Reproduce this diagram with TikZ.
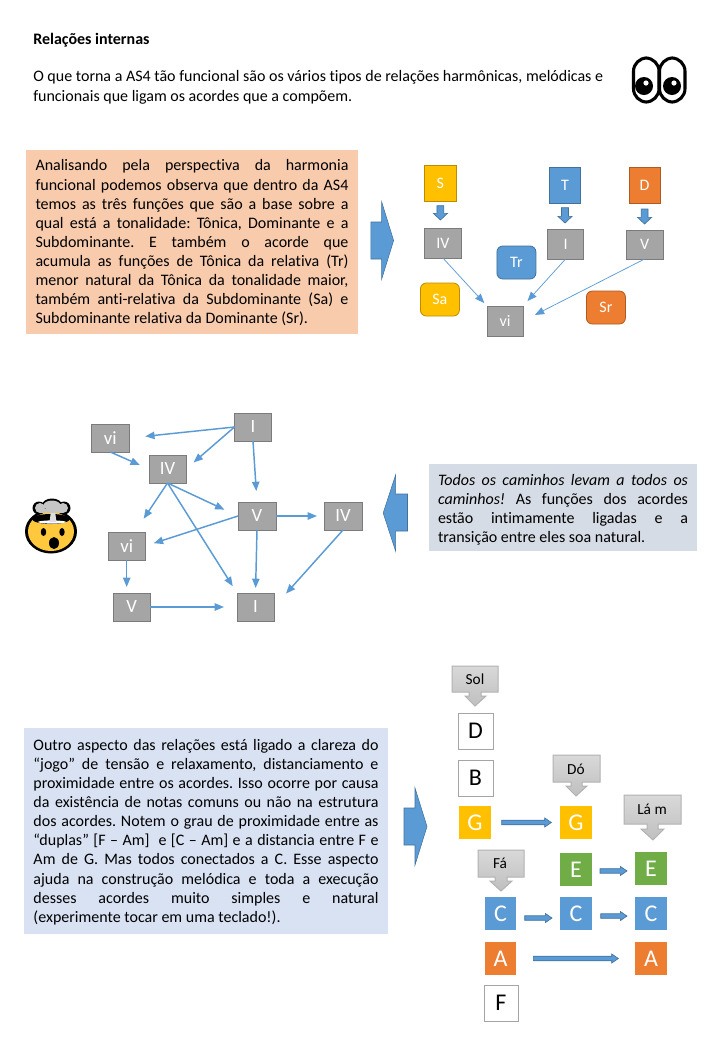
\documentclass[tikz,border=0pt]{standalone}
\usepackage{fontspec}
\setmainfont{Carlito}[Ligatures=NoCommon]
\usetikzlibrary{arrows.meta,calc}
\definecolor{cblue}{HTML}{5B9BD5}
\definecolor{cbluedk}{HTML}{41719C}
\definecolor{cgold}{HTML}{FFC000}
\definecolor{cgolddk}{HTML}{BC8C00}
\definecolor{corange}{HTML}{ED7D31}
\definecolor{corangedk}{HTML}{AE5A21}
\definecolor{cgray}{HTML}{A5A5A5}
\definecolor{cgraydk}{HTML}{7B7B7B}
\definecolor{cgreen}{HTML}{70AD47}
\definecolor{boxpeach}{HTML}{F8CBAD}
\definecolor{boxslate}{HTML}{D6DCE5}
\definecolor{boxblue}{HTML}{D9E2F3}
\definecolor{cface}{HTML}{FFC83D}
\tolerance=10000 \hbadness=10000 \hfuzz=20pt
\frenchspacing
\tikzset{
  x=0.75pt,y=-0.75pt,
  sz/.style 2 args={minimum width=#1*0.75pt,minimum height=#2*0.75pt,inner sep=0pt,outer sep=0pt},
  chord/.style={draw=cgraydk,fill=cgray,text=white,line width=0.6pt},
  chordA/.style={chord,font=\fontsize{12}{14}\selectfont},
  chordB/.style={chord,font=\fontsize{14}{16}\selectfont},
  func/.style={draw=#1dk,fill=#1,text=white,line width=0.6pt,font=\fontsize{12}{14}\selectfont},
  funcr/.style={func=#1,rounded corners=4.5pt},
  para/.style={inner sep=0pt,outer sep=0pt,align=justify},
  body/.style={font=\fontsize{12}{14.35}\selectfont,text=black},
  letter/.style={font=\fontsize{18}{20}\selectfont},
  solid box/.style={fill=#1,text=white,letter},
  open box/.style={draw=cgray,fill=white,text=black,letter,line width=0.75pt},
  thinarr/.style={draw=cblue,line width=0.55pt,-{Triangle[length=7pt,width=5.5pt]}},
  medarr/.style={draw=cblue,line width=1.1pt,-{Triangle[length=7pt,width=5.5pt]}},
  blockstyle/.style={fill=cblue,draw=cbluedk,line width=0.5pt},
  % horizontal block arrow between two nodes: start gap, end gap, downward offset (pt)
  hblock/.style n args={3}{blockstyle,to path={
    let \p1=(\tikztostart),\p2=(\tikztotarget),\n1={\x1+#1},\n2={\x2-#2},\n3={\y1-#3} in
    (\n1,\n3+1.7pt) -- (\n2-5pt,\n3+1.7pt) -- (\n2-5pt,\n3+3.4pt) -- (\n2,\n3)
    -- (\n2-5pt,\n3-3.4pt) -- (\n2-5pt,\n3-1.7pt) -- (\n1,\n3-1.7pt) -- cycle}},
  % vertical block arrow between two nodes: start gap, end gap
  vblock/.style 2 args={blockstyle,to path={
    let \p1=(\tikztostart),\p2=(\tikztotarget),\n1={\y1-#1},\n2={\y2+#2} in
    (\x1-2.6pt,\n1) -- (\x1+2.6pt,\n1) -- (\x1+2.6pt,\n2+5pt) -- (\x1+5.3pt,\n2+5pt) -- (\x1,\n2)
    -- (\x1-5.3pt,\n2+5pt) -- (\x1-2.6pt,\n2+5pt) -- cycle}},
  bigarrow/.style={fill=cblue,draw=cbluedk,line width=0.4pt},
  callout/.style={top color=gray!30,bottom color=gray!50,draw=gray!60,line width=0.75pt},
  calltext/.style={text=black,font=\fontsize{11.5}{13}\selectfont,inner sep=0pt}
}
\begin{document}
\begin{tikzpicture}
\useasboundingbox[fill=white] (0,0) rectangle (720,1040);

% --- heading
\node[anchor=west,inner sep=0pt,font=\fontsize{12}{14}\selectfont\bfseries] (title) at (33,40) {Relações internas};
\node[anchor=north west,inner sep=0pt,font=\fontsize{12}{15}\selectfont,align=left] (intro) at (33,70.5)
 {O que torna a AS4 tão funcional são os vários tipos de relações harmônicas, melódicas e\\funcionais que ligam os acordes que a compõem.};

% --- eyes
\draw[line width=2.3pt,fill=white,rounded corners=10pt] (633.5,58) rectangle (659,102);
\draw[line width=2.3pt,fill=white,rounded corners=10pt] (659.5,58) rectangle (685,102);
\fill (644,86) circle[radius=9];
\fill (672,86) circle[radius=9];
\fill[white] (646,83) circle[radius=2.6];
\fill[white] (674,83) circle[radius=2.6];

% --- section 1
\node[fill=boxpeach,sz={332}{184}] (box1) at (192,242) {};
\node[para,body,text width=313*0.75pt] (text1) at (192,243)
 {Analisando pela perspectiva da harmonia\linebreak
  funcional podemos observa que dentro da AS4\linebreak
  temos as três funções que são a base sobre a\linebreak
  qual está a tonalidade: Tônica, Dominante e a\linebreak
  Subdominante. E também o acorde que\linebreak
  acumula as funções de Tônica da relativa (Tr)\linebreak
  menor natural da Tônica da tonalidade maior,\linebreak
  também anti-relativa da Subdominante (Sa) e\linebreak
  Subdominante relativa da Dominante (Sr).};
\path[bigarrow] (370.8,222) -- (381.7,222) -- (381.7,202) -- (393.6,240.5) -- (381.7,279) -- (381.7,259) -- (370.8,259) -- cycle;

\node[func=cgold,sz={32}{36}] (s) at (440.4,183) {S};
\node[func=cblue,sz={31}{36}] (t) at (565,185) {T};
\node[func=corange,sz={31}{36}] (d) at (644.6,185) {D};
\node[chordA,sz={37}{30}] (iv1) at (442.9,243) {IV};
\node[chordA,sz={36}{30}] (i1) at (565.6,244) {I};
\node[chordA,sz={37}{29}] (v1) at (644.6,244.5) {V};
\node[chordA,sz={36}{30}] (vi1) at (505,321) {vi};
\node[funcr=cblue,sz={39}{33}] (tr) at (516.4,262.5) {Tr};
\node[funcr=cgold,sz={39}{33}] (sa) at (439.9,299.5) {Sa};
\node[funcr=corange,sz={39}{33}] (sr) at (605.9,307.5) {Sr};

\draw[vblock={3.5pt}{6pt}] (s.south) to (s.south |- iv1.north);
\draw[vblock={3.5pt}{4.5pt}] (t.south) to (t.south |- i1.north);
\draw[vblock={4.5pt}{4.5pt}] (d.south) to (d.south |- v1.north);
\draw[thinarr,shorten >=3pt] (iv1.south) -- (vi1.north west);
\draw[thinarr,shorten >=5pt] (i1.south) -- (vi1.north east);
\draw[thinarr,shorten >=10pt] (v1.south) -- (vi1.east);

% --- section 2
\node[chordB,sz={37}{28}] (ia) at (253,427) {I};
\node[chordB,sz={38}{28}] (vib) at (110.3,438) {vi};
\node[chordB,sz={37}{28}] (ivc) at (167.5,469) {IV};
\node[chordB,sz={38}{28}] (vd) at (257,516) {V};
\node[chordB,sz={38}{28}] (ive) at (343,516) {IV};
\node[chordB,sz={37}{28}] (vif) at (126.7,546) {vi};
\node[chordB,sz={37}{28}] (vg) at (131.7,607) {V};
\node[chordB,sz={37}{28}] (ih) at (255.5,607) {I};

\draw[medarr,shorten >=16pt*0.75] (ia.west) -- (vib.east);
\draw[medarr,shorten >=10pt*0.75] (ia.west) -- (ivc.east);
\draw[medarr,shorten >=11pt*0.75] (ia.south) -- (vd.north);
\draw[medarr,shorten >=10pt*0.75] (vib.south) -- (ivc.west);
\draw[medarr,shorten >=16pt*0.75] (ivc.south) -- (vif.60);
\draw[medarr,shorten >=15pt*0.75] (ivc.south) -- (vd.west);
\draw[medarr,shorten >=8pt*0.75] (ivc.south) -- (ih.north west);
\draw[medarr,shorten >=7pt*0.75] (vd.east) -- (ive.west);
\draw[medarr,shorten >=9pt*0.75] (vd.west) -- (vif.east);
\draw[medarr,shorten >=5pt*0.75] (vd.south) -- (ih.north);
\draw[medarr,shorten >=18pt*0.75] (ive.south) -- (ih.east);
\draw[medarr,shorten >=6pt*0.75] (vif.south) -- (vif.south |- vg.north);
\draw[medarr,shorten >=13pt*0.75] (vg.east) -- (ih.west);

\path[bigarrow] (407.5,494) -- (395.6,494) -- (395.6,475) -- (383.2,513) -- (395.6,551) -- (395.6,531) -- (407.5,531) -- cycle;
\node[fill=boxslate,sz={268}{87}] (box2) at (563,507.5) {};
\node[para,body,text width=250*0.75pt] (text2) at (563,509.5)
 {\textit{Todos os caminhos levam a todos os}\linebreak
  \textit{caminhos!} As funções dos acordes\linebreak
  estão intimamente ligadas e a\linebreak
  transição entre eles soa natural.};

% --- exploding head
\fill[black] (51,531.5) ellipse[x radius=26,y radius=22];
\fill[cface] (51,531.5) ellipse[x radius=23,y radius=19.5];
\fill[black] (51,519) ellipse[x radius=19,y radius=5];
\fill[white] (52,522) ellipse[x radius=14,y radius=1.6];
\fill[gray!25] (49.5,522) -- (51,511) -- (55,511) -- (56.5,522) -- cycle;
\fill[black] (39,508) circle[radius=6.5];
\fill[black] (52,505) ellipse[x radius=10,y radius=6.5];
\fill[black] (64,508) circle[radius=6.5];
\fill[gray!45] (40,508) circle[radius=5];
\fill[gray!45] (52,505.5) ellipse[x radius=8.5,y radius=5];
\fill[gray!45] (63,508) circle[radius=5];
\fill[gray!45] (40,509) rectangle (63,513);
\fill[black] (43.5,532) ellipse[x radius=2.7,y radius=4];
\fill[black] (62,532) ellipse[x radius=2.7,y radius=4];
\fill[black] (54,543) ellipse[x radius=5,y radius=6];

% --- section 3
\node[fill=boxblue,sz={364}{206}] (box3) at (206,831) {};
\node[para,body,text width=345*0.75pt] (text3) at (206,832)
 {Outro aspecto das relações está ligado a clareza do\linebreak
  “jogo” de tensão e relaxamento, distanciamento e\linebreak
  proximidade entre os acordes. Isso ocorre por causa\linebreak
  da existência de notas comuns ou não na estrutura\linebreak
  dos acordes. Notem o grau de proximidade entre as\linebreak
  “duplas” [F – Am]\ \ e [C – Am] e a distancia entre F e\linebreak
  Am de G. Mas todos conectados a C. Esse aspecto\linebreak
  ajuda na construção melódica e toda a execução\linebreak
  desses acordes muito simples e natural\linebreak
  (experimente tocar em uma teclado!).};
\path[bigarrow] (404,808) -- (415,808) -- (415,788) -- (427,826.5) -- (415,865) -- (415,845) -- (404,845) -- cycle;

% call-outs
\path[callout] (452,666) -- (498,666) -- (498,692) -- (481,692) -- (481,696) -- (486,696) -- (475,706) -- (465,696) -- (469,696) -- (469,692) -- (452,692) -- cycle;
\node[calltext] (sol) at (475,679) {Sol};
\path[callout] (553,755) -- (600,755) -- (600,782) -- (582,782) -- (582,786) -- (587,786) -- (576,796) -- (566,786) -- (571,786) -- (571,782) -- (553,782) -- cycle;
\node[calltext] (do) at (576,769) {Dó};
\path[callout] (624,795) -- (681,795) -- (681,824) -- (658,824) -- (658,829) -- (664,829) -- (653,840) -- (641,829) -- (647,829) -- (647,824) -- (624,824) -- cycle;
\node[calltext] (lam) at (652,809) {Lá m};
\path[callout] (478,850) -- (524,850) -- (524,877) -- (507,877) -- (507,881) -- (512,881) -- (501,891) -- (490,881) -- (495,881) -- (495,877) -- (478,877) -- cycle;
\node[calltext] (fa) at (500,863) {Fá};

\node[open box,sz={35}{36}] (nd) at (475.5,731) {D};
\node[open box,sz={35}{36}] (nb) at (475.5,778) {B};
\node[solid box=cgold,sz={32}{33}] (ng) at (475,822.5) {G};
\node[solid box=cgold,sz={32}{33}] (ngb) at (576,822.5) {G};
\node[solid box=cgreen,sz={32}{33}] (ne) at (576,869.5) {E};
\node[solid box=cgreen,sz={32}{33}] (nec) at (651,868.5) {E};
\node[solid box=cblue,sz={31}{33}] (nc) at (500.5,913.5) {C};
\node[solid box=cblue,sz={32}{33}] (ncb) at (576,913.5) {C};
\node[solid box=cblue,sz={32}{33}] (ncc) at (651,913.5) {C};
\node[solid box=corange,sz={31}{33}] (na) at (500.5,958.5) {A};
\node[solid box=corange,sz={32}{33}] (nac) at (651,958.5) {A};
\node[open box,sz={34}{36}] (nf) at (501,1003) {F};

\draw[hblock={8pt}{6.5pt}{0pt}] (ng.east) to (ngb.west);
\draw[hblock={6pt}{6pt}{1.1pt}] (ne.east) to (nec.west);
\draw[hblock={6.5pt}{6pt}{3.4pt}] (nc.east) to (ncb.west);
\draw[hblock={6.5pt}{6pt}{1.9pt}] (ncb.east) to (ncc.west);
\draw[hblock={13pt}{12.5pt}{0pt}] (na.east) to (nac.west);
\end{tikzpicture}
\end{document}
